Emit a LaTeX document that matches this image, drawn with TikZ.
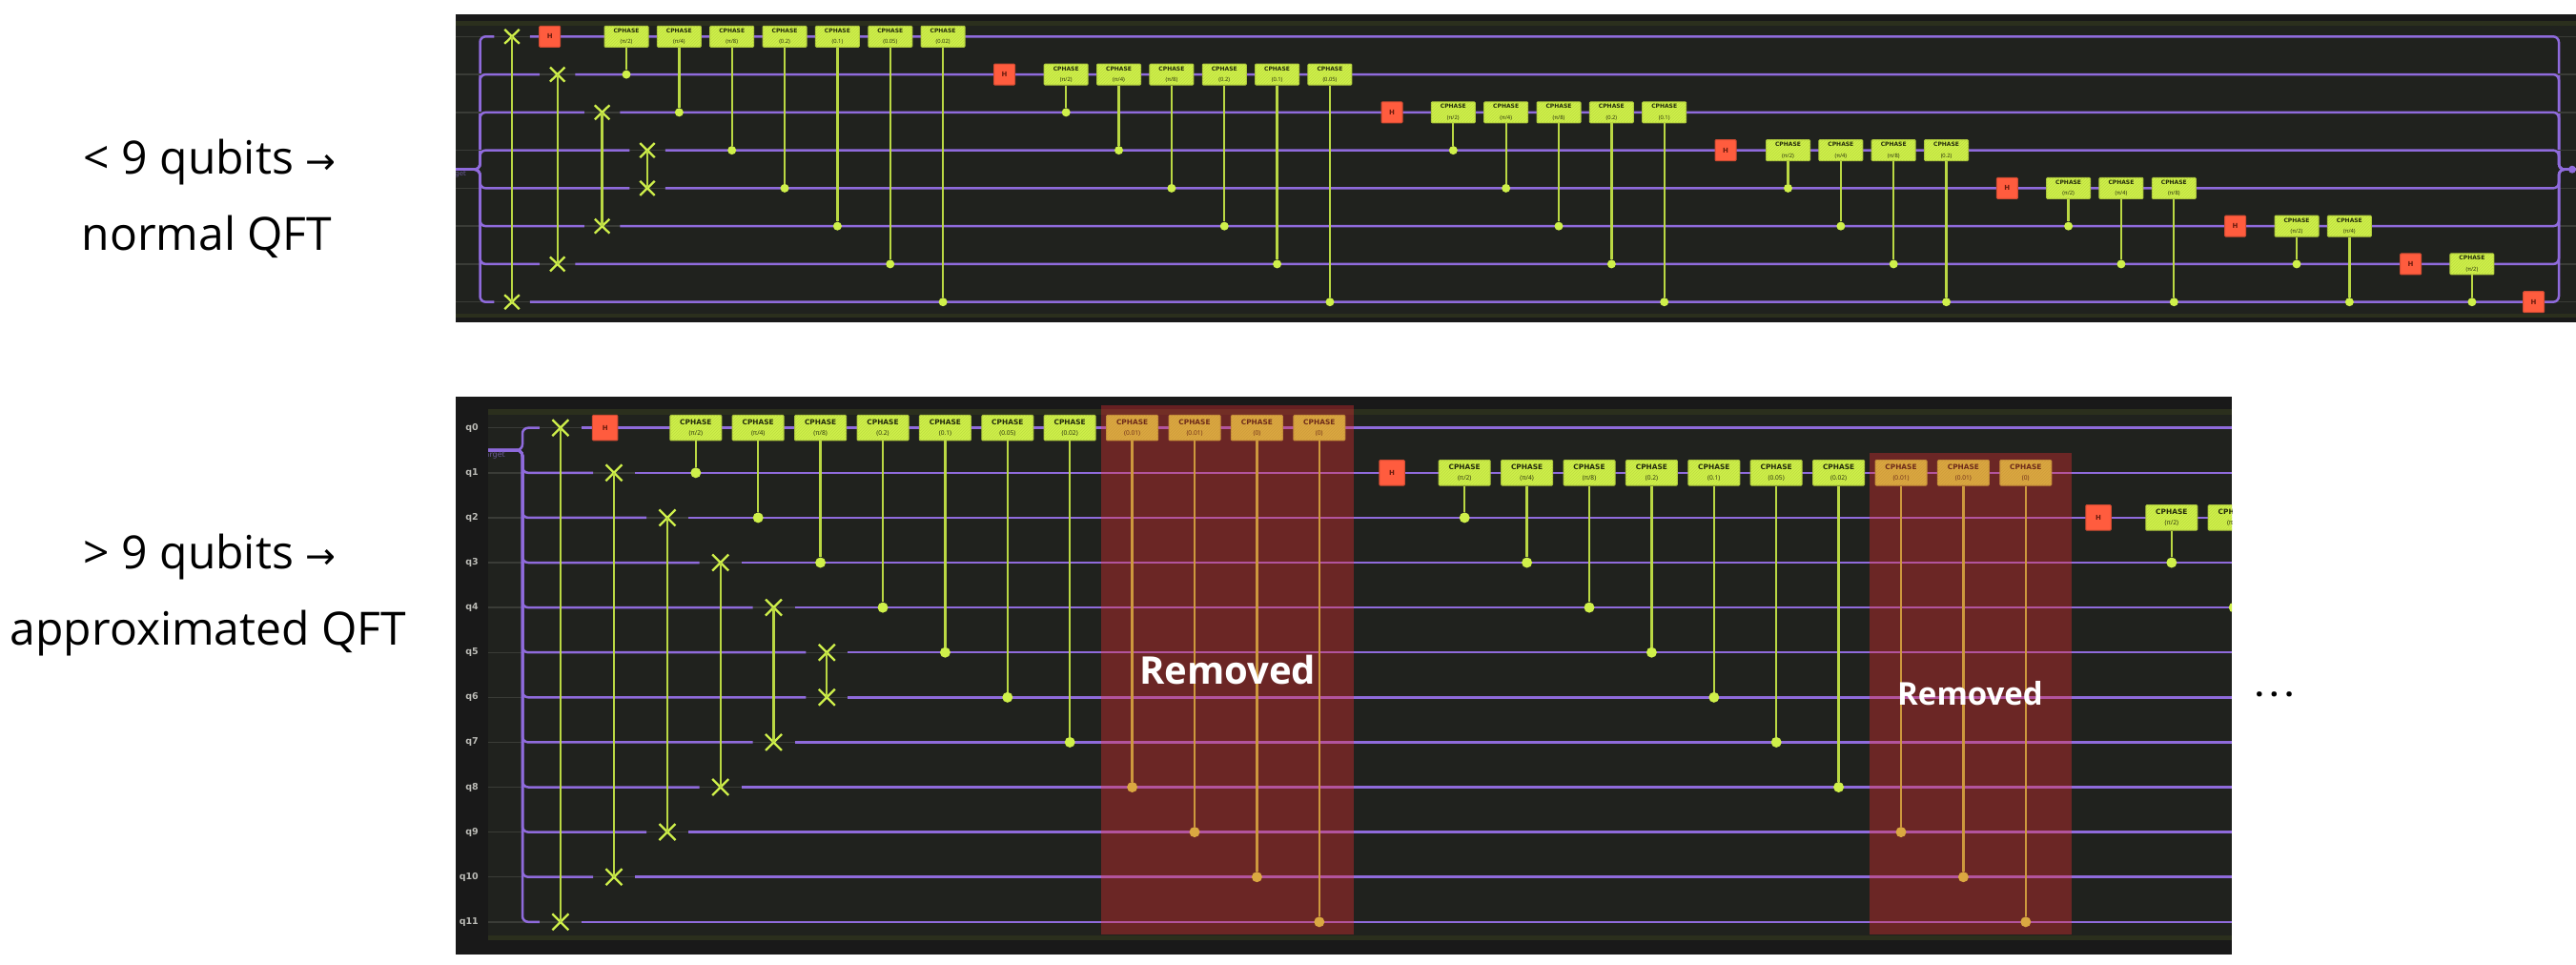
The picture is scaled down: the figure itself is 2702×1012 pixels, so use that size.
\documentclass[tikz,border=0pt]{standalone}
\usepackage{fontspec}
\setmainfont{Open Sans}
\newfontfamily\gatefont{DejaVu Sans}
\usetikzlibrary{positioning,shapes.misc,patterns}
\definecolor{panelout}{HTML}{191919}
\definecolor{panelin}{HTML}{20221E}
\definecolor{panelband}{HTML}{2B2F1D}
\definecolor{wirecol}{HTML}{8F6BDC}
\definecolor{ghostcol}{HTML}{3A3C37}
\definecolor{limecol}{HTML}{CFF04A}
\definecolor{limeedge}{HTML}{A9C23C}
\definecolor{limehatch}{HTML}{BCDC40}
\definecolor{limetext}{HTML}{232A0C}
\definecolor{hcol}{HTML}{FF5C3E}
\definecolor{hedge}{HTML}{D04B32}
\definecolor{htext}{HTML}{6A1C0E}
\definecolor{redcol}{RGB}{238,45,51}
\definecolor{qlabel}{HTML}{BDBDB8}
\definecolor{targetcol}{HTML}{6A5A98}
\pgfdeclarelayer{wires}
\pgfsetlayers{wires,main}
\newcommand{\phaselist}{π/2,π/4,π/8,0.2,0.1,0.05,0.02,0.01,0.01,0,0}

\begin{document}
\begin{tikzpicture}[
    x=1pt,
    y=-1pt,
    wire/.style={draw=wirecol,line width=2.5pt,rounded corners=6pt},
    ghost/.style={draw=ghostcol,line width=1.4pt},
    link/.style={draw=limecol!90!black,line width=2.3pt},
    gate/.style={
        draw=limeedge,
        fill=limecol,
        line width=1pt,
        rounded corners=1pt,
        align=center,
        inner sep=0pt,
        text=limetext,
        postaction={pattern=north east lines,pattern color=limehatch}
    },
    topgate/.style={gate,minimum width=46pt,minimum height=22pt},
    lowgate/.style={gate,minimum width=54pt,minimum height=26.5pt},
    hgate/.style={
        draw=hedge,
        fill=hcol,
        line width=1pt,
        rounded corners=1pt,
        inner sep=0pt,
        text=htext,
        font=\gatefont\bfseries\fontsize{7}{8}\selectfont
    },
    ctrl/.style={circle,fill=limecol,inner sep=0pt},
    swapx/.style={cross out,draw=limecol,line width=2.3pt,inner sep=0pt,outer sep=0pt},
    removed/.style={fill=redcol,fill opacity=0.37},
    sidetext/.style={anchor=base,text=black,font=\fontsize{48}{56}\selectfont},
    removedtext/.style={text=white,font=\bfseries}
]
\useasboundingbox (0,0) rectangle (2702,1012);

\begin{pgfonlayer}{wires}
\fill[panelout] (478,15) rectangle (2702,338);
\fill[panelin] (478,22) rectangle (2702,333);
\fill[panelband] (478,22) rectangle (2702,27);
\fill[panelband] (478,329) rectangle (2702,333);
\fill[panelout] (478,416) rectangle (2341,1001);
\fill[panelin] (512,429) rectangle (2341,986);
\fill[panelband] (512,429) rectangle (2341,434.5);
\fill[panelband] (512,981) rectangle (2341,986);
\end{pgfonlayer}

\node[sidetext] (few) at (220,182) {< 9 qubits {\gatefont\fontsize{38}{40}\selectfont →}};
\node[sidetext] (normal) at (217,262.7) {normal QFT};
\node[sidetext] (many) at (220,596.7) {> 9 qubits {\gatefont\fontsize{38}{40}\selectfont →}};
\node[sidetext] (approx) at (218.5,676.7) {approximated QFT};

\coordinate (tstem) at (478,177.7);
\coordinate (tbrace) at (503.5,177.7);
\coordinate (tbraceR) at (2684,177.7);
\coordinate (tstemR) at (2702,177.7);
\node[circle,fill=wirecol,inner sep=0pt,minimum size=8pt] (tout) at (2698,177.7) {};

\begin{scope}
\clip (478,170) rectangle (500,190);
\node[anchor=east,inner sep=0pt,text=targetcol,font=\gatefont\fontsize{7}{8}\selectfont] (ttarget) at (489,183) {target};
\end{scope}

\foreach \w/\sx in {0/537,1/584.7,2/631.6,3/679,4/679,5/631.6,6/584.7,7/537}{
    \node[swapx,minimum width=15.5pt,minimum height=15pt] (ts\w) at (\sx,{38.3+39.77*\w}) {};
    \begin{pgfonlayer}{wires}
    \draw[ghost] (tstem |- ts\w) -- (tstemR |- ts\w);
    \draw[wire,shorten >=11pt] (tstem) -- (tbrace) |- (ts\w);
    \draw[wire,shorten <=11pt] (ts\w) -- (tbraceR |- ts\w) -- (tbraceR) -- (tstemR);
    \end{pgfonlayer}
}
\foreach \a/\b in {0/7,1/6,2/5,3/4}{
    \draw[link] (ts\a.center) -- (ts\b.center);
}

\foreach \w/\hx/\gx in {0/576.7/657,1/1053.5/1118.2,2/1460/1524.3,3/1810/1875.5,4/2105.4/2169.6,5/2344.6/2409,6/2528.6/2592.9,7/2657.6/0}{
    \node[hgate,minimum width=22pt,minimum height=22pt] (th\w) at (\hx,{38.3+39.77*\w}) {H};
    \foreach \lab [count=\k] in \phaselist {
        \pgfmathtruncatemacro{\c}{\w+\k}
        \ifnum\c<8
        \node[topgate] (tg\w-\k) at ({\gx+55.35*(\k-1)},{38.3+39.77*\w}) {\gatefont\bfseries\fontsize{6}{8}\selectfont CPHASE\\[-0.5pt]\mdseries\fontsize{5.8}{7}\selectfont(\lab)};
        \node[ctrl,minimum size=9pt] (tc\w-\k) at ({\gx+55.35*(\k-1)},{38.3+39.77*\c}) {};
        \draw[link] (tg\w-\k) -- (tc\w-\k);
        \fi
    }
}

\coordinate (bstem) at (512,472);
\coordinate (bbrace) at (548,472);
\coordinate (bend) at (2341,472);

\begin{scope}
\clip (512,468) rectangle (540,490);
\node[anchor=east,inner sep=0pt,text=targetcol,font=\gatefont\fontsize{8}{9}\selectfont] (btarget) at (530,478) {target};
\end{scope}

\foreach \w/\sx in {0/587.9,1/644,2/700,3/755.7,4/811.5,5/867.3,6/867.3,7/811.5,8/755.7,9/700,10/644,11/587.9}{
    \node[swapx,minimum width=17pt,minimum height=17pt] (bs\w) at (\sx,{448.7+47.1*\w}) {};
    \node[anchor=east,inner sep=0pt,text=qlabel,font=\gatefont\bfseries\fontsize{9.5}{10}\selectfont] (bq\w) at (502,{448.7+47.1*\w}) {q\w};
    \begin{pgfonlayer}{wires}
    \draw[ghost] (bstem |- bs\w) -- (bend |- bs\w);
    \draw[wire,shorten >=13.5pt] (bstem) -- (bbrace) |- (bs\w);
    \draw[wire,shorten <=13.5pt] (bs\w) -- (bend |- bs\w);
    \end{pgfonlayer}
}
\foreach \a/\b in {0/11,1/10,2/9,3/8,4/7,5/6}{
    \draw[link] (bs\a.center) -- (bs\b.center);
}

\begin{scope}
\clip (478,416) rectangle (2341,1001);
\foreach \w/\hx/\gx/\last in {0/634.7/729.8/11,1/1460/1536.2/10,2/2201/2277.8/2}{
    \node[hgate,minimum width=26.5pt,minimum height=26.5pt] (bh\w) at (\hx,{448.7+47.1*\w}) {H};
    \foreach \lab [count=\k] in \phaselist {
        \pgfmathtruncatemacro{\c}{\w+\k}
        \ifnum\k>\last\else
        \node[lowgate] (bg\w-\k) at ({\gx+65.4*(\k-1)},{448.7+47.1*\w}) {\gatefont\bfseries\fontsize{7.4}{9}\selectfont CPHASE\\[-0.5pt]\mdseries\fontsize{6.6}{8}\selectfont(\lab)};
        \node[ctrl,minimum size=11pt] (bc\w-\k) at ({\gx+65.4*(\k-1)},{448.7+47.1*\c}) {};
        \draw[link] (bg\w-\k) -- (bc\w-\k);
        \fi
    }
}
\end{scope}

\fill[removed] (1155.4,425.3) rectangle (1420,979.7);
\fill[removed] (1960.9,475) rectangle (2172.5,979.7);

\node[removedtext,font=\bfseries\fontsize{40}{44}\selectfont] (gone1) at (1287.6,702) {Removed};
\node[removedtext,font=\bfseries\fontsize{33}{36}\selectfont] (gone2) at (2066.5,727) {Removed};
\node[anchor=base,text=black,font=\bfseries\fontsize{32}{36}\selectfont] (more) at (2385.5,730) {.\hspace{6.5pt}.\hspace{6.5pt}.};
\end{tikzpicture}
\end{document}
